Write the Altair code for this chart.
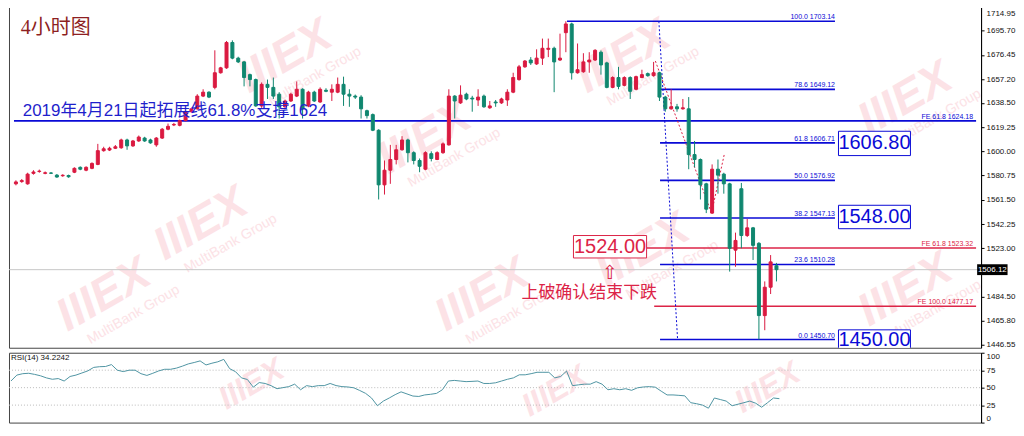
import altair as alt
import pandas as pd

# ---------------- 4H candles ----------------
opens = [1574.2, 1576.0, 1574.2, 1582.5, 1584.0, 1582.5, 1582.8, 1581.1, 1580.6, 1580.8,
         1583.4, 1587.3, 1585.0, 1586.5, 1589.6, 1600.5, 1601.0, 1602.4, 1602.8, 1609.0,
         1604.3, 1608.2, 1610.5, 1609.0, 1605.1, 1610.5, 1617.5, 1620.9, 1620.6, 1624.4,
         1631.4, 1633.7, 1643.8, 1646.9, 1650.7, 1662.3, 1666.2, 1686.3, 1673.9, 1670.9,
         1660.8, 1656.9, 1636.0, 1653.1, 1650.7, 1645.3, 1635.3, 1639.9, 1643.8, 1649.2,
         1636.0, 1646.9, 1639.1, 1648.4, 1646.9, 1646.9, 1653.1, 1645.3, 1643.8, 1643.0,
         1632.2, 1629.1, 1616.7, 1573.4, 1585.0, 1593.5, 1601.2, 1609.0, 1598.9, 1592.7,
         1585.8, 1598.1, 1593.5, 1598.9, 1605.1, 1643.8, 1638.4, 1645.3, 1642.2, 1640.7,
         1643.8, 1634.5, 1639.1, 1638.4, 1640.7, 1646.9, 1656.9, 1667.0, 1672.4, 1669.3,
         1673.9, 1680.9, 1681.7, 1672.4, 1694.1, 1701.0, 1662.3, 1663.1, 1670.9, 1672.4,
         1678.6, 1670.1, 1650.7, 1658.5, 1652.3, 1658.5, 1649.2, 1658.5, 1661.6, 1660.0,
         1662.3, 1643.0, 1633.7, 1635.3, 1633.7, 1633.7, 1597.4, 1593.5, 1574.2, 1551.0,
         1585.8, 1581.9, 1574.2, 1521.6, 1570.3, 1533.2, 1539.3, 1527.0, 1469.7, 1492.2, 1509.2]
highs = [1577.0, 1578.0, 1583.0, 1585.0, 1585.5, 1584.0, 1583.5, 1582.0, 1581.8, 1581.5,
         1587.3, 1588.0, 1588.1, 1591.2, 1605.9, 1603.6, 1603.6, 1605.0, 1610.0, 1610.0,
         1609.0, 1612.5, 1611.5, 1610.0, 1611.3, 1618.5, 1622.0, 1622.5, 1625.2, 1632.2,
         1634.5, 1645.3, 1649.2, 1647.6, 1680.1, 1667.0, 1687.5, 1688.0, 1675.0, 1671.6,
         1661.6, 1657.7, 1654.6, 1656.9, 1658.5, 1646.9, 1641.0, 1646.5, 1655.4, 1650.0,
         1648.0, 1648.0, 1650.7, 1650.0, 1653.1, 1658.5, 1659.2, 1649.2, 1645.0, 1644.5,
         1633.0, 1630.0, 1617.5, 1592.7, 1605.1, 1605.1, 1612.0, 1610.0, 1600.0, 1594.3,
         1600.0, 1600.0, 1600.0, 1607.0, 1649.2, 1644.5, 1652.3, 1646.5, 1644.0, 1649.2,
         1645.0, 1639.9, 1640.7, 1642.5, 1649.2, 1662.3, 1668.5, 1672.4, 1674.7, 1680.9,
         1689.4, 1689.4, 1683.0, 1693.3, 1703.14, 1702.0, 1685.5, 1677.8, 1678.6, 1681.0,
         1680.0, 1671.0, 1659.5, 1667.0, 1659.5, 1659.5, 1660.0, 1664.7, 1662.5, 1670.9,
         1663.1, 1644.0, 1649.2, 1637.6, 1641.5, 1643.0, 1608.2, 1594.3, 1575.0, 1589.6,
         1593.5, 1583.0, 1575.0, 1535.5, 1574.9, 1546.3, 1540.0, 1528.0, 1496.8, 1517.7, 1511.5]
lows = [1573.0, 1575.0, 1573.5, 1581.5, 1583.0, 1581.8, 1582.0, 1579.0, 1579.8, 1579.0,
        1582.7, 1585.0, 1584.2, 1585.8, 1589.0, 1599.7, 1600.2, 1601.8, 1602.0, 1601.2,
        1603.5, 1607.5, 1607.5, 1606.0, 1603.6, 1609.8, 1616.7, 1620.0, 1619.8, 1623.7,
        1630.6, 1633.0, 1643.0, 1642.2, 1649.2, 1661.6, 1665.4, 1673.0, 1670.0, 1651.5,
        1651.5, 1635.3, 1634.5, 1641.5, 1641.5, 1626.0, 1634.5, 1639.1, 1643.0, 1626.0,
        1635.0, 1639.1, 1638.4, 1646.9, 1639.9, 1646.1, 1636.0, 1635.3, 1641.5, 1626.0,
        1626.0, 1616.0, 1561.8, 1565.7, 1574.2, 1589.6, 1600.5, 1591.2, 1589.6, 1583.4,
        1585.0, 1592.0, 1593.0, 1598.0, 1604.5, 1626.0, 1637.6, 1640.5, 1631.4, 1636.0,
        1634.5, 1633.7, 1635.3, 1637.6, 1636.0, 1646.1, 1656.0, 1666.2, 1668.5, 1668.5,
        1668.5, 1674.7, 1646.9, 1671.6, 1678.6, 1656.9, 1661.6, 1662.3, 1662.3, 1671.6,
        1660.8, 1650.0, 1650.0, 1649.2, 1651.5, 1641.5, 1648.4, 1658.0, 1659.2, 1659.2,
        1639.9, 1631.4, 1633.0, 1631.4, 1633.0, 1585.8, 1587.3, 1561.8, 1551.0, 1550.3,
        1566.4, 1566.4, 1504.6, 1508.4, 1523.1, 1532.0, 1513.8, 1450.70, 1458.1, 1486.8, 1496.8]
closes = [1575.7, 1576.8, 1581.9, 1583.6, 1584.3, 1583.0, 1582.6, 1579.6, 1581.0, 1579.8,
          1586.5, 1585.8, 1587.3, 1590.4, 1600.5, 1602.0, 1602.4, 1603.6, 1609.0, 1604.3,
          1608.2, 1611.3, 1608.2, 1606.7, 1610.5, 1617.5, 1619.8, 1621.3, 1624.4, 1631.4,
          1633.7, 1643.8, 1646.9, 1643.0, 1662.3, 1666.2, 1686.3, 1673.9, 1670.9, 1658.5,
          1656.9, 1636.0, 1653.1, 1650.7, 1643.8, 1635.3, 1639.9, 1645.3, 1649.2, 1633.7,
          1646.9, 1639.9, 1649.2, 1647.6, 1649.2, 1653.1, 1645.3, 1643.8, 1643.0, 1633.7,
          1628.3, 1616.7, 1573.4, 1585.0, 1593.5, 1601.2, 1609.0, 1598.9, 1592.7, 1588.1,
          1598.9, 1594.3, 1598.9, 1605.9, 1643.8, 1639.9, 1644.5, 1641.5, 1641.5, 1643.0,
          1635.3, 1636.0, 1638.4, 1641.5, 1646.9, 1658.5, 1667.0, 1671.6, 1670.1, 1673.9,
          1681.7, 1681.7, 1670.9, 1673.9, 1701.0, 1662.3, 1664.7, 1670.9, 1672.4, 1680.1,
          1668.5, 1650.7, 1658.5, 1651.5, 1658.5, 1647.6, 1659.2, 1660.8, 1660.0, 1662.3,
          1643.0, 1633.7, 1635.3, 1633.7, 1634.5, 1597.4, 1593.5, 1573.4, 1554.1, 1585.8,
          1581.1, 1574.2, 1523.1, 1529.3, 1533.2, 1539.3, 1525.4, 1469.7, 1492.2, 1512.3, 1506.12]

rsi_vals = [59.5, 68, 70, 70.6, 69, 67, 64, 62, 63, 59.5,
            66, 68, 71, 74, 79, 80, 80.3, 83, 75, 73,
            75, 75, 70, 67.5, 70.6, 74, 76.3, 76.3, 78, 80.8,
            84, 86, 88.3, 82.5, 85, 87, 90.5, 77.2, 72.8, 64,
            61.7, 50.7, 57.3, 56, 52.9, 48.5, 50, 51.5, 55, 47,
            52.9, 51.5, 52.9, 52.9, 56, 53, 51.5, 51, 49.8, 46,
            41.8, 35.2, 24.1, 30.8, 35.2, 40, 44, 41, 38, 37.4,
            39.6, 40.5, 41.8, 47.1, 59.5, 60.4, 59.5, 58.6, 59, 59.5,
            56, 56, 57, 59.5, 62, 64, 68.4, 68.4, 70, 72,
            72, 72, 64, 66, 73.7, 52.9, 54, 55, 55, 58.6,
            55, 47, 48.5, 47, 48.5, 46.2, 49.8, 51, 51.5, 50.7,
            45, 39.6, 39.6, 39, 38.3, 28.5, 27, 25, 20.6, 35.2,
            33, 30.8, 24.1, 26.3, 28.5, 30.8, 27.7, 22, 28.5, 35.2, 34.2242]

axis_prices = [1714.95, 1695.70, 1676.45, 1657.20, 1638.50, 1619.25, 1600.00,
               1580.75, 1561.50, 1542.25, 1523.00, 1484.50, 1465.80, 1446.55]
last_price = 1506.12

fib_levels = ["100.0", "78.6", "61.8", "50.0", "38.2", "23.6", "0.0"]
fib_prices = [1703.14, 1649.12, 1606.71, 1576.92, 1547.13, 1510.28, 1450.70]
fib_start = [94.2, 110.1, 110.1, 110.1, 110.1, 110.1, 110.1]
fib_end = 140.0

fe_blue_level = "FE 61.8"
fe_blue_price = 1624.18
fe_red_levels = ["FE 61.8", "FE 100.0"]
fe_red_prices = [1523.32, 1477.17]
fe_red_start = [107.8, 109.1]

red_box_text = "1524.00"
red_box = [95.3, 107.8, 1515.4, 1533.2, 1524.3]          # x0, x1, p0, p1, text price
blue_box_texts = ["1606.80", "1548.00", "1450.00"]
blue_box_p0 = [1596.6, 1538.6, 1441.9]
blue_box_p1 = [1615.9, 1557.2, 1458.4]
blue_box_pc = [1606.3, 1547.9, 1450.4]
blue_box_x = [140.6, 152.9]

blue_dot_i = [109.9, 113.1]
blue_dot_p = [1703.14, 1450.70]
red_dot_i = [109.3, 118.9, 121.1]
red_dot_p = [1671.6, 1551.0, 1598.0]

wm_i = [46.0, 31.6, 69.8, 107.1, 152.0, 79.7, 15.0, 152.0, 103.8]
wm_p = [1675.0, 1542.4, 1610.5, 1521.6, 1641.5, 1486.0, 1486.0, 1490.0, 1675.0]
wm_rsi_i = [40.7, 92.0, 128.0]
wm_rsi_v = [55, 45, 50]

RED = "#DA1A40"
TEAL = "#10876F"
BLUE = "#0A0AD6"
FERED = "#DC2447"
WM = "#FCE2E6"
FONT = "Liberation Sans"
CJK = "Liberation Sans, Noto Sans CJK SC"

W = 974
H1 = 344
H2 = 70
N = len(opens)
XD = [-0.33, 164.12]
xs = alt.Scale(domain=XD, nice=False, zero=False)
ys = alt.Scale(domain=[1444.2, 1716.5], nice=False, zero=False)

yaxis = alt.Axis(orient="right", values=axis_prices, format=".2f", title=None,
                 labelFont=FONT, labelFontSize=8, labelColor="#111", tickColor="#000",
                 tickSize=3, labelPadding=2, domainColor="#000", grid=False,
                 labelFlush=2.5, labelFlushOffset=-3)


def X(f):
    return alt.X(f, type="quantitative", scale=xs, axis=None)


def Y(f):
    return alt.Y(f, type="quantitative", scale=ys, axis=yaxis)


cd = pd.DataFrame({"i": list(range(N)), "o": opens, "h": highs, "l": lows, "c": closes})
cd["dir"] = ["up" if c >= o else "down" for o, c in zip(opens, closes)]
dir_scale = alt.Scale(domain=["up", "down"], range=[RED, TEAL])

wm_df = pd.DataFrame({"i": wm_i, "p": wm_p})
wm_logo = alt.Chart(wm_df).mark_text(text="IIIEX", font=FONT, fontSize=46, fontWeight="bold",
                                     fontStyle="italic", angle=330, color=WM, clip=True).encode(x=X("i"), y=Y("p"))
wm_tag = alt.Chart(wm_df).mark_text(text="MultiBank Group", font=FONT, fontSize=14, angle=330,
                                    color=WM, dx=16, dy=32, clip=True).encode(x=X("i"), y=Y("p"))

bid = alt.Chart(pd.DataFrame({"p": [last_price]})).mark_rule(color="#C8C8C8", strokeWidth=1).encode(
    x=alt.value(0), x2=alt.value(W), y=Y("p"))

fib_df = pd.DataFrame({"x0": fib_start, "x1": [fib_end] * len(fib_levels), "p": fib_prices,
                       "lab": [f"{l}  {p:.2f}" for l, p in zip(fib_levels, fib_prices)]})
fib_lines = alt.Chart(fib_df).mark_rule(color=BLUE, strokeWidth=1.6).encode(x=X("x0"), x2="x1", y=Y("p"))
fib_text = alt.Chart(fib_df).mark_text(color=BLUE, font=FONT, fontSize=7, align="right",
                                       baseline="bottom", dy=-1).encode(x=X("x1"), y=Y("p"), text="lab:N")

feb_df = pd.DataFrame({"x0": [XD[0]], "x1": [XD[1]], "xt": [163.6], "p": [fe_blue_price],
                       "lab": [f"{fe_blue_level}  {fe_blue_price:.2f}"]})
feb_line = alt.Chart(feb_df).mark_rule(color=BLUE, strokeWidth=1.8).encode(x=X("x0"), x2="x1", y=Y("p"))
feb_text = alt.Chart(feb_df).mark_text(color=BLUE, font=FONT, fontSize=7, align="right", baseline="bottom",
                                       dy=-1).encode(x=X("xt"), y=Y("p"), text="lab:N")
fer_df = pd.DataFrame({"x0": fe_red_start, "x1": [XD[1]] * 2, "xt": [163.6] * 2, "p": fe_red_prices,
                       "lab": [f"{l}  {p:.2f}" for l, p in zip(fe_red_levels, fe_red_prices)]})
fer_line = alt.Chart(fer_df).mark_rule(color=FERED, strokeWidth=1.5).encode(x=X("x0"), x2="x1", y=Y("p"))
fer_text = alt.Chart(fer_df).mark_text(color=FERED, font=FONT, fontSize=7, align="right", baseline="bottom",
                                       dy=-1).encode(x=X("xt"), y=Y("p"), text="lab:N")

bd = pd.DataFrame({"i": blue_dot_i, "p": blue_dot_p})
blue_dot = alt.Chart(bd).mark_line(color=BLUE, strokeWidth=1, strokeDash=[2, 2]).encode(x=X("i"), y=Y("p"))
rd = pd.DataFrame({"i": red_dot_i, "p": red_dot_p})
red_dot = alt.Chart(rd).mark_line(color=FERED, strokeWidth=1, strokeDash=[2, 2]).encode(x=X("i"), y=Y("p"))

wicks = alt.Chart(cd).mark_rule(strokeWidth=1).encode(
    x=X("i"), y=Y("l"), y2="h", color=alt.Color("dir:N", scale=dir_scale, legend=None))
bodies = alt.Chart(cd).mark_bar(size=3, strokeWidth=1).encode(
    x=X("i"), y=Y("o"), y2="c", color=alt.Color("dir:N", scale=dir_scale, legend=None),
    stroke=alt.Stroke("dir:N", scale=dir_scale, legend=None))

rb_df = pd.DataFrame({"x0": [red_box[0]], "x1": [red_box[1]], "p0": [red_box[2]], "p1": [red_box[3]],
                      "xc": [(red_box[0] + red_box[1]) / 2], "pc": [red_box[4]], "t": [red_box_text]})
rbox = alt.Chart(rb_df).mark_rect(fill="white", stroke=FERED, strokeWidth=1).encode(
    x=X("x0"), x2="x1", y=Y("p0"), y2="p1")
rbox_t = alt.Chart(rb_df).mark_text(font=FONT, fontSize=20, color=FERED, baseline="middle").encode(
    x=X("xc"), y=Y("pc"), text="t:N")
bb_df = pd.DataFrame({"x0": [blue_box_x[0]] * 3, "x1": [blue_box_x[1]] * 3, "p0": blue_box_p0,
                      "p1": blue_box_p1, "pc": blue_box_pc, "xc": [sum(blue_box_x) / 2] * 3,
                      "t": blue_box_texts})
bbox = alt.Chart(bb_df).mark_rect(fill="white", stroke=BLUE, strokeWidth=1, clip=True).encode(
    x=X("x0"), x2="x1", y=Y("p0"), y2="p1")
bbox_t = alt.Chart(bb_df).mark_text(font=FONT, fontSize=20, color=BLUE, baseline="middle", clip=True).encode(
    x=X("xc"), y=Y("pc"), text="t:N")

title_txt = alt.Chart(pd.DataFrame({"i": [0.83], "p": [1693.3], "t": ["4小时图"]})).mark_text(
    font="Liberation Serif, Noto Sans CJK SC", fontSize=20, color="#8E1F22", align="left",
    baseline="alphabetic").encode(x=X("i"), y=Y("p"), text="t:N")
support_txt = alt.Chart(pd.DataFrame({"i": [1.16], "p": [1628.3],
                                      "t": ["2019年4月21日起拓展线61.8%支撑1624"]})).mark_text(
    font=CJK, fontSize=17, color="#1F1FCC", align="left", baseline="alphabetic").encode(
    x=X("i"), y=Y("p"), text="t:N")
arrow_txt = alt.Chart(pd.DataFrame({"i": [101.5], "p": [1503.8], "t": ["⇧"]})).mark_text(
    font="DejaVu Sans", fontSize=19, color=FERED, align="center", baseline="middle").encode(
    x=X("i"), y=Y("p"), text="t:N")
break_txt = alt.Chart(pd.DataFrame({"i": [98.0], "p": [1487.5], "t": ["上破确认结束下跌"]})).mark_text(
    font=CJK, fontSize=17, color=FERED, align="center", baseline="middle").encode(
    x=X("i"), y=Y("p"), text="t:N")

tag_df = pd.DataFrame({"x0": [164.3], "x1": [169.5], "p0": [last_price - 4.3], "p1": [last_price + 4.3],
                       "xc": [166.9], "p": [last_price], "t": [f"{last_price:.2f}"]})
tag_box = alt.Chart(tag_df).mark_rect(color="#000").encode(x=X("x0"), x2="x1", y=Y("p0"), y2="p1")
tag_txt = alt.Chart(tag_df).mark_text(color="white", font=FONT, fontSize=8, baseline="middle").encode(
    x=X("xc"), y=Y("p"), text="t:N")

main = alt.layer(wm_logo, wm_tag, bid, fib_lines, feb_line, fer_line, blue_dot, red_dot, wicks, bodies,
                 fib_text, feb_text, fer_text, rbox, rbox_t, bbox, bbox_t, title_txt, support_txt,
                 arrow_txt, break_txt, tag_box, tag_txt).properties(width=W, height=H1)

# ---------------- RSI panel ----------------
rs = alt.Scale(domain=[0, 100], nice=False, zero=False)
raxis = alt.Axis(orient="right", values=[0, 25, 50, 75, 100], format="d", title=None, labelFlush=True,
                 labelFont=FONT, labelFontSize=8, labelColor="#111", tickColor="#000", tickSize=3,
                 labelPadding=2, domainColor="#000", grid=False)
xaxis_r = alt.Axis(values=list(range(0, 161, 8)), labels=False, ticks=True, tickSize=3, tickColor="#000",
                   domainColor="#000", grid=False, title=None)


def XR(f, ax=None):
    return alt.X(f, type="quantitative", scale=xs, axis=ax)


def YR(f):
    return alt.Y(f, type="quantitative", scale=rs, axis=raxis)


rdf = pd.DataFrame({"i": list(range(N)), "r": rsi_vals})
rsi_levels = [25, 50, 75]
lv = alt.Chart(pd.DataFrame({"v": rsi_levels})).mark_rule(color="#BBBBBB", strokeWidth=1, strokeDash=[1, 2]).encode(
    x=alt.value(0), x2=alt.value(W), y=YR("v"))
wmr = alt.Chart(pd.DataFrame({"i": wm_rsi_i, "v": wm_rsi_v})).mark_text(
    text="IIIEX", font=FONT, fontSize=32, fontWeight="bold", fontStyle="italic", angle=330, color=WM,
    clip=True).encode(x=XR("i"), y=YR("v"))
rline = alt.Chart(rdf).mark_line(color="#4F95A3", strokeWidth=1).encode(x=XR("i", xaxis_r), y=YR("r"))
rlab = alt.Chart(pd.DataFrame({"i": [0.0], "v": [92.0], "t": [f"RSI(14) {rsi_vals[-1]:.4f}"]})).mark_text(
    font=FONT, fontSize=8, color="#111", align="left", baseline="middle").encode(x=XR("i"), y=YR("v"), text="t:N")

rsi = alt.layer(wmr, lv, rline, rlab).properties(width=W, height=H2)

chart = alt.vconcat(main, rsi, spacing=2).properties(
    padding={"left": 0, "top": -5, "right": 0, "bottom": 0}, background="white"
).configure_view(stroke="#444", strokeWidth=1)

chart.save("out.html", embed_options={"renderer": "svg", "actions": False})
